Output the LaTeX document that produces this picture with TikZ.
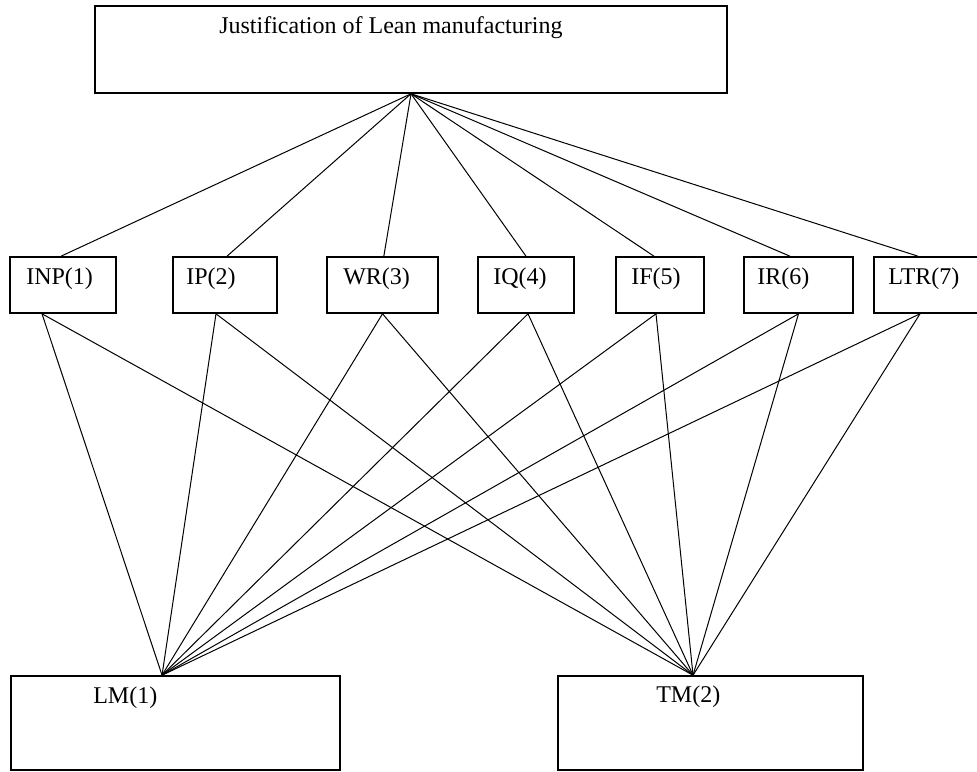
\documentclass[tikz,border=0pt]{standalone}
\usepackage{fontspec}
\setmainfont{Liberation Serif}
\usetikzlibrary{
    positioning,           % Relative positioning
    calc                   % Coordinate calculations
}

\tikzset{
    box/.style={draw,line width=1.2pt,rectangle,inner sep=0pt,minimum height=42pt},
    lbl/.style={font=\fontsize{18}{20}\selectfont,inner sep=0pt,anchor=west},
    link/.style={line width=0.75pt}
}

\begin{document}
\begin{tikzpicture}[x=0.75pt,y=-0.75pt]
    \useasboundingbox (0,0) rectangle (977,771);
    % goal
    \node[box,minimum width=474pt,minimum height=65.25pt] (just) at (411,49.5) {};
    \node[lbl] (just-l) at (219,28) {Justification of Lean manufacturing};
    % criteria
    \node[box,minimum width=79.5pt]  (inp) at (63,285)    {};
    \node[box,minimum width=78pt]    (ip)  at (225,285)   {};
    \node[box,minimum width=83.25pt] (wr)  at (382.5,285) {};
    \node[box,minimum width=72pt]    (iq)  at (526,285)   {};
    \node[box,minimum width=66pt]    (if)  at (660,285)   {};
    \node[box,minimum width=81.75pt] (ir)  at (798.5,285) {};
    \node[box,minimum width=81pt]    (ltr) at (928,285)   {};
    \node[lbl] (inp-l) at (26,279)  {INP(1)};
    \node[lbl] (ip-l)  at (186,279) {IP(2)};
    \node[lbl] (wr-l)  at (343,279) {WR(3)};
    \node[lbl] (iq-l)  at (493,279) {IQ(4)};
    \node[lbl] (if-l)  at (631,279) {IF(5)};
    \node[lbl] (ir-l)  at (757,279) {IR(6)};
    \node[lbl] (ltr-l) at (888,279) {LTR(7)};
    % alternatives
    \node[box,minimum width=246.75pt,minimum height=70.5pt] (lm) at (175.5,723) {};
    \node[box,minimum width=228.75pt,minimum height=70.5pt] (tm) at (710.5,723) {};
    \node[lbl] (lm-l) at (93,698)  {LM(1)};
    \node[lbl] (tm-l) at (656,697) {TM(2)};
    % meeting points
    \coordinate (just-b) at (just.south);
    \coordinate (lm-t) at ([xshift=-10.1pt]lm.north);
    \coordinate (tm-t) at ([xshift=-13.1pt]tm.north);
    \coordinate (inp-t) at ([xshift=-1.5pt]inp.north);
    \coordinate (inp-b) at ([xshift=-15.75pt]inp.south);
    \coordinate (ip-t) at ([xshift=1.5pt]ip.north);
    \coordinate (ip-b) at ([xshift=-6.75pt]ip.south);
    \coordinate (wr-t) at ([xshift=1pt]wr.north);
    \coordinate (wr-b) at (wr.south);
    \coordinate (iq-t) at (iq.north);
    \coordinate (iq-b) at ([xshift=1.5pt]iq.south);
    \coordinate (if-t) at ([xshift=-4.5pt]if.north);
    \coordinate (if-b) at ([xshift=-3pt]if.south);
    \coordinate (ir-t) at ([xshift=-6.4pt]ir.north);
    \coordinate (ir-b) at (ir.south);
    \coordinate (ltr-t) at ([xshift=-7.5pt]ltr.north);
    \coordinate (ltr-b) at ([xshift=-6pt]ltr.south);
    % links
    \foreach \c in {inp,ip,wr,iq,if,ir,ltr}{
        \draw[link] (just-b) -- (\c-t);
        \draw[link] (\c-b) -- (lm-t);
        \draw[link] (\c-b) -- (tm-t);
    }
\end{tikzpicture}
\end{document}
